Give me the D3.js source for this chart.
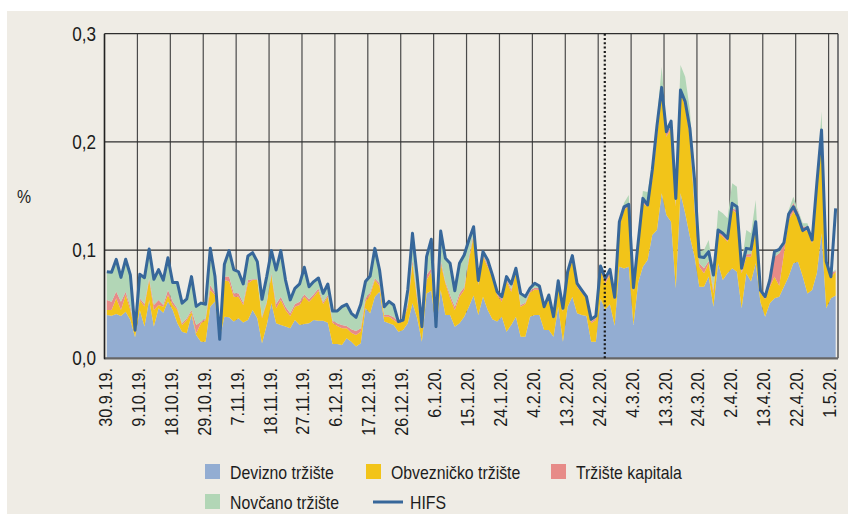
<!DOCTYPE html>
<html>
<head>
<meta charset="utf-8">
<script src="https://cdn.jsdelivr.net/npm/d3@7"></script>
<style>
  body { margin: 0; background: #ffffff; }
  text { font-family: "Liberation Sans", Arial, sans-serif; fill: #1c1c1c; }
</style>
</head>
<body>
<script>

// tick labels, one every 7 working days starting at 30.9.19.
const tickLabels = ['30.9.19.', '9.10.19.', '18.10.19.', '29.10.19.', '7.11.19.', '18.11.19.', '27.11.19.',
  '6.12.19.', '17.12.19.', '26.12.19.', '6.1.20.', '15.1.20.', '24.1.20.', '4.2.20.', '13.2.20.', '24.2.20.',
  '4.3.20.', '13.3.20.', '24.3.20.', '2.4.20.', '13.4.20.', '22.4.20.', '1.5.20.'];

const yTicks = [0, 0.1, 0.2, 0.3];

// daily contributions to HIFS
const devizno = [
  0.0400, 0.0394, 0.0410, 0.0391, 0.0431, 0.0354, 0.0194, 0.0447, 0.0293, 0.0539,
  0.0293, 0.0462, 0.0422, 0.0524, 0.0447, 0.0323, 0.0246, 0.0231, 0.0400, 0.0216,
  0.0154, 0.0154, 0.0478, 0.0524, 0.0185, 0.0385, 0.0379, 0.0339, 0.0370, 0.0330,
  0.0354, 0.0447, 0.0370, 0.0139, 0.0308, 0.0508, 0.0323, 0.0308, 0.0293, 0.0277,
  0.0354, 0.0308, 0.0317, 0.0323, 0.0354, 0.0348, 0.0348, 0.0329, 0.0132, 0.0132,
  0.0123, 0.0185, 0.0154, 0.0108, 0.0138, 0.0462, 0.0416, 0.0570, 0.0616, 0.0340,
  0.0323, 0.0308, 0.0246, 0.0262, 0.0323, 0.0508, 0.0370, 0.0154, 0.0600, 0.0625,
  0.0270, 0.0631, 0.0400, 0.0400, 0.0292, 0.0323, 0.0385, 0.0477, 0.0580,
  0.0400, 0.0570, 0.0446, 0.0360, 0.0339, 0.0385, 0.0246, 0.0308, 0.0385, 0.0200,
  0.0200, 0.0385, 0.0400, 0.0400, 0.0262, 0.0262, 0.0200, 0.0477, 0.0154, 0.0477,
  0.0570, 0.0416, 0.0400, 0.0391, 0.0154, 0.0154, 0.0550, 0.0450, 0.0500, 0.0300,
  0.0847, 0.0831, 0.0847, 0.0308, 0.0700, 0.0847, 0.0908, 0.1140,
  0.1186, 0.1525, 0.1324, 0.1263, 0.0647, 0.1525, 0.1340, 0.1124, 0.0939, 0.0662,
  0.0662, 0.0755, 0.0477, 0.0878, 0.0724, 0.0786, 0.0832, 0.0800, 0.0462, 0.0786,
  0.0709, 0.0878, 0.0520, 0.0385, 0.0508, 0.0554, 0.0570, 0.0662, 0.0755, 0.0878,
  0.0893, 0.0755, 0.0600, 0.0631, 0.0786, 0.1155, 0.0462, 0.0554, 0.0580];

const obveznicko = [
  0.0046, 0.0052, 0.0145, 0.0055, 0.0154, 0.0092, 0.0052, 0.0092, 0.0185, 0.0185,
  0.0154, 0.0031, 0.0055, 0.0062, 0.0046, 0.0123, 0.0062, 0.0123, 0.0031, 0.0015,
  0.0169, 0.0200, 0.0154, 0.0062, 0.0015, 0.0339, 0.0330, 0.0231, 0.0200, 0.0163,
  0.0339, 0.0277, 0.0354, 0.0231, 0.0200, 0.0262, 0.0139, 0.0231, 0.0154, 0.0114,
  0.0123, 0.0185, 0.0253, 0.0200, 0.0216, 0.0277, 0.0154, 0.0241, 0.0197, 0.0167,
  0.0154, 0.0092, 0.0083, 0.0108, 0.0108, 0.0062, 0.0169, 0.0154, 0.0052, 0.0045,
  0.0062, 0.0046, 0.0077, 0.0077, 0.0154, 0.0370, 0.0169, 0.0114, 0.0124, 0.0175,
  0.0012, 0.0247, 0.0293, 0.0154, 0.0155, 0.0247, 0.0246, 0.0431, 0.0550,
  0.0277, 0.0369, 0.0401, 0.0388, 0.0246, 0.0138, 0.0471, 0.0308, 0.0406, 0.0277,
  0.0302, 0.0222, 0.0237, 0.0231, 0.0200, 0.0277, 0.0170, 0.0210, 0.0277, 0.0293,
  0.0338, 0.0246, 0.0207, 0.0154, 0.0169, 0.0200, 0.0266, 0.0243, 0.0270, 0.0239,
  0.0369, 0.0539, 0.0561, 0.0308, 0.0330, 0.0585, 0.0493, 0.0507,
  0.0862, 0.0924, 0.0724, 0.0863, 0.0755, 0.0939, 0.0986, 0.0924, 0.0431, 0.0185,
  0.0124, 0.0123, 0.0123, 0.0277, 0.0400, 0.0292, 0.0538, 0.0540, 0.0324, 0.0153,
  0.0230, 0.0339, 0.0090, 0.0160, 0.0154, 0.0200, 0.0100, 0.0308, 0.0523, 0.0477,
  0.0401, 0.0415, 0.0586, 0.0432, 0.0800, 0.0939, 0.0416, 0.0200, 0.0220];

const kapitala = [
  0.0092, 0.0077, 0.0062, 0.0077, 0.0031, 0.0031, 0.0010, 0.0015, 0.0025, 0.0015,
  0.0046, 0.0046, 0.0015, 0.0046, 0.0031, 0.0015, 0.0015, 0.0015, 0.0015, 0.0077,
  0.0015, 0.0015, 0.0046, 0.0015, 0.0006, 0.0031, 0.0046, 0.0031, 0.0031, 0.0020,
  0.0031, 0.0006, 0.0006, 0.0015, 0.0015, 0.0015, 0.0040, 0.0030, 0.0030, 0.0025,
  0.0025, 0.0030, 0.0021, 0.0022, 0.0021, 0.0019, 0.0018, 0.0015, 0.0019, 0.0024,
  0.0031, 0.0022, 0.0031, 0.0036, 0.0031, 0.0031, 0.0022, 0.0015, 0.0025, 0.0015,
  0.0015, 0.0025, 0.0016, 0.0015, 0.0025, 0.0030, 0.0031, 0.0012, 0.0046, 0.0032,
  0.0005, 0.0030, 0.0015, 0.0031, 0.0030, 0.0030, 0.0025, 0.0025, 0.0025,
  0.0015, 0.0016, 0.0021, 0.0016, 0.0015, 0.0022, 0.0019, 0.0021, 0.0019, 0.0016,
  0.0012, 0.0018, 0.0016, 0.0016, 0.0009, 0.0015, 0.0009, 0.0012, 0.0009, 0.0015,
  0.0016, 0.0012, 0.0012, 0.0012, 0.0016, 0.0019, 0.0031, 0.0031, 0.0021, 0.0012,
  0.0016, 0.0025, 0.0024, 0.0015, 0.0015, 0.0015, 0.0016, 0.0031,
  0.0031, 0.0015, 0.0031, 0.0021, 0.0024, 0.0031, 0.0031, 0.0025, 0.0031, 0.0031,
  0.0046, 0.0021, 0.0031, 0.0025, 0.0016, 0.0016, 0.0022, 0.0024, 0.0024, 0.0022,
  0.0025, 0.0021, 0.0010, 0.0019, 0.0031, 0.0185, 0.0300, 0.0077, 0.0062, 0.0083,
  0.0061, 0.0047, 0.0031, 0.0031, 0.0031, 0.0016, 0.0021, 0.0032, 0.0010];

const novcano = [
  0.0262, 0.0271, 0.0293, 0.0231, 0.0299, 0.0308, 0.0006, 0.0222, 0.0262, 0.0262,
  0.0231, 0.0283, 0.0231, 0.0293, 0.0176, 0.0231, 0.0200, 0.0185, 0.0308, 0.0163,
  0.0185, 0.0139, 0.0339, 0.0154, 0.0005, 0.0123, 0.0240, 0.0216, 0.0191, 0.0185,
  0.0222, 0.0240, 0.0163, 0.0154, 0.0231, 0.0210, 0.0308, 0.0425, 0.0246, 0.0108,
  0.0145, 0.0164, 0.0250, 0.0117, 0.0118, 0.0098, 0.0080, 0.0102, 0.0089, 0.0114,
  0.0169, 0.0200, 0.0148, 0.0127, 0.0222, 0.0155, 0.0154, 0.0277, 0.0123, 0.0077,
  0.0126, 0.0114, 0.0010, 0.0010, 0.0130, 0.0247, 0.0185, 0.0012, 0.0169, 0.0268,
  0.0005, 0.0268, 0.0216, 0.0293, 0.0148, 0.0278, 0.0299, 0.0160, 0.0060,
  0.0046, 0.0031, 0.0040, 0.0006, 0.0016, 0.0040, 0.0034, 0.0056, 0.0031, 0.0114,
  0.0071, 0.0037, 0.0046, 0.0030, 0.0012, 0.0040, 0.0006, 0.0025, 0.0028, 0.0022,
  0.0031, 0.0025, 0.0018, 0.0019, 0.0021, 0.0024, 0.0012, 0.0015, 0.0030, 0.0013,
  0.0031, 0.0043, 0.0078, 0.0022, 0.0040, 0.0100, 0.0120, 0.0120,
  0.0123, 0.0231, 0.0062, 0.0055, 0.0068, 0.0216, 0.0246, 0.0222, 0.0247, 0.0108,
  0.0168, 0.0195, 0.0154, 0.0190, 0.0200, 0.0200, 0.0225, 0.0222, 0.0068, 0.0225,
  0.0191, 0.0225, 0.0020, 0.0021, 0.0031, 0.0046, 0.0021, 0.0021, 0.0031, 0.0056,
  0.0016, 0.0031, 0.0031, 0.0015, 0.0015, 0.0170, 0.0010, 0.0005, 0.0010];

const hifs = [
  0.0800, 0.0795, 0.0915, 0.0748, 0.0915, 0.0770, 0.0260, 0.0776, 0.0745, 0.1010,
  0.0730, 0.0820, 0.0723, 0.0930, 0.0700, 0.0700, 0.0510, 0.0550, 0.0755, 0.0480,
  0.0510, 0.0500, 0.1016, 0.0755, 0.0175, 0.0870, 0.0995, 0.0820, 0.0800, 0.0687,
  0.0945, 0.0976, 0.0893, 0.0545, 0.0755, 0.0995, 0.0816, 0.0995, 0.0723, 0.0540,
  0.0647, 0.0687, 0.0841, 0.0662, 0.0709, 0.0742, 0.0600, 0.0687, 0.0437, 0.0437,
  0.0477, 0.0499, 0.0416, 0.0379, 0.0499, 0.0709, 0.0761, 0.1016, 0.0816, 0.0477,
  0.0526, 0.0493, 0.0339, 0.0354, 0.0632, 0.1155, 0.0755, 0.0292, 0.0939, 0.1100,
  0.0292, 0.1176, 0.0924, 0.0878, 0.0625, 0.0878, 0.0955, 0.1093, 0.1216,
  0.0720, 0.0986, 0.0908, 0.0770, 0.0616, 0.0570, 0.0755, 0.0687, 0.0832, 0.0600,
  0.0570, 0.0647, 0.0693, 0.0668, 0.0477, 0.0585, 0.0385, 0.0717, 0.0462, 0.0800,
  0.0949, 0.0693, 0.0631, 0.0570, 0.0360, 0.0391, 0.0853, 0.0739, 0.0822, 0.0564,
  0.1263, 0.1400, 0.1423, 0.0653, 0.1070, 0.1478, 0.1417, 0.1740,
  0.2150, 0.2504, 0.2094, 0.2193, 0.1478, 0.2479, 0.2372, 0.2125, 0.1648, 0.0939,
  0.0932, 0.0986, 0.0770, 0.1186, 0.1155, 0.1109, 0.1432, 0.1401, 0.0832, 0.1016,
  0.1007, 0.1263, 0.0631, 0.0570, 0.0724, 0.0986, 0.1007, 0.1068, 0.1334, 0.1401,
  0.1309, 0.1180, 0.1210, 0.1094, 0.1617, 0.2110, 0.0893, 0.0754, 0.1386];

const breakDay = 106.4; // dotted marker, day index
const ticksEvery = 7;

const seriesKeys = ['devizno', 'obveznicko', 'kapitala', 'novcano'];
const seriesNames = ['Devizno tržište', 'Obvezničko tržište', 'Tržište kapitala', 'Novčano tržište'];
const seriesColors = ['#93add2', '#f2c419', '#e78b88', '#b2d6b6'];
const lineColor = '#37679a';

let width = 848,
  height = 514;

let svg = d3.select('body').append('svg') // create svg element
  .attr('width', width)
  .attr('height', height);

svg.append('rect') // beige panel
  .attr('x', 7)
  .attr('y', 11)
  .attr('width', width - 7)
  .attr('height', height - 11)
  .attr('fill', '#efece5');

let x = d3.scaleLinear().domain([0, hifs.length]).range([104.5, 838]);
let y = d3.scaleLinear().domain([0, 0.3]).range([358.3, 33.7]);

let comma = v => d3.format('.1f')(v).replace('.', ',');
let tickIdx = tickLabels.map((t, k) => k * ticksEvery);

// grid behind the areas
svg.append('g').selectAll('line')
  .data(tickIdx)
  .enter().append('line')
  .attr('x1', d => x(d)).attr('x2', d => x(d))
  .attr('y1', y(0)).attr('y2', y(0.3))
  .attr('stroke', '#4a4a4a')
  .attr('stroke-width', 1.2);

svg.append('line') // right border
  .attr('x1', x.range()[1]).attr('x2', x.range()[1])
  .attr('y1', y(0)).attr('y2', y(0.3))
  .attr('stroke', '#7a7a7a')
  .attr('stroke-width', 2);

svg.append('g').selectAll('line')
  .data(yTicks.filter(d => d > 0))
  .enter().append('line')
  .attr('x1', x.range()[0]).attr('x2', x.range()[1])
  .attr('y1', d => y(d)).attr('y2', d => y(d))
  .attr('stroke', '#2e2e2e')
  .attr('stroke-width', 1.2);

// stacked areas
let rows = hifs.map((h, i) => ({
  i: i,
  devizno: devizno[i],
  obveznicko: obveznicko[i],
  kapitala: kapitala[i],
  novcano: novcano[i]
}));

let stacked = d3.stack().keys(seriesKeys)(rows);

let area = d3.area()
  .x(d => x(d.data.i + 0.5))
  .y0(d => y(d[0]))
  .y1(d => y(d[1]));

svg.append('g').selectAll('path')
  .data(stacked)
  .enter().append('path')
  .attr('d', area)
  .attr('fill', (d, k) => seriesColors[k]);

// axes lines
svg.append('line')
  .attr('x1', x.range()[0]).attr('x2', x.range()[1])
  .attr('y1', y(0)).attr('y2', y(0))
  .attr('stroke', '#666')
  .attr('stroke-width', 2.2);

svg.append('line')
  .attr('x1', x.range()[0]).attr('x2', x.range()[0])
  .attr('y1', y(0) + 1).attr('y2', y(0.3))
  .attr('stroke', '#222')
  .attr('stroke-width', 1.5);

// HIFS line
let line = d3.line()
  .x((d, i) => x(i + 0.5))
  .y(d => y(d));

svg.append('path')
  .datum(hifs)
  .attr('d', line)
  .attr('fill', 'none')
  .attr('stroke', lineColor)
  .attr('stroke-width', 3)
  .attr('stroke-linejoin', 'round');

// dotted break marker
svg.append('line')
  .attr('x1', x(breakDay)).attr('x2', x(breakDay))
  .attr('y1', y(0.3)).attr('y2', y(0))
  .attr('stroke', '#1a1a1a')
  .attr('stroke-width', 2.2)
  .attr('stroke-dasharray', '2,2.3');

// y labels
svg.append('g').selectAll('text')
  .data(yTicks)
  .enter().append('text')
  .attr('transform', d => `translate(96,${y(d) + 7}) scale(0.88,1)`)
  .attr('text-anchor', 'end')
  .style('font-size', '19.5px')
  .text(comma);

svg.append('text')
  .attr('transform', 'translate(17,203) scale(0.88,1)')
  .style('font-size', '18px')
  .text('%');

// x labels
svg.append('g').selectAll('text')
  .data(tickLabels)
  .enter().append('text')
  .attr('transform', (d, k) => `translate(${x(tickIdx[k]) + 7.5},368) rotate(-90) scale(0.88,1)`)
  .attr('text-anchor', 'end')
  .style('font-size', '18.5px')
  .text(d => d);

// legend
let legendItems = [
  {name: seriesNames[0], color: seriesColors[0], lx: 205, ly: 464},
  {name: seriesNames[1], color: seriesColors[1], lx: 366, ly: 464},
  {name: seriesNames[2], color: seriesColors[2], lx: 551, ly: 464},
  {name: seriesNames[3], color: seriesColors[3], lx: 205, ly: 494}
];

let legend = svg.append('g');

legend.selectAll('rect')
  .data(legendItems)
  .enter().append('rect')
  .attr('x', d => d.lx).attr('y', d => d.ly)
  .attr('width', 15).attr('height', 15)
  .attr('fill', d => d.color);

legend.selectAll('text')
  .data(legendItems)
  .enter().append('text')
  .attr('transform', d => `translate(${d.lx + 25},${d.ly + 14.5}) scale(0.88,1)`)
  .style('font-size', '18px')
  .text(d => d.name);

legend.append('line')
  .attr('x1', 373).attr('x2', 403)
  .attr('y1', 502).attr('y2', 502)
  .attr('stroke', lineColor)
  .attr('stroke-width', 3);

legend.append('text')
  .attr('transform', 'translate(410,508.5) scale(0.88,1)')
  .style('font-size', '18px')
  .text('HIFS');

</script>
</body>
</html>
